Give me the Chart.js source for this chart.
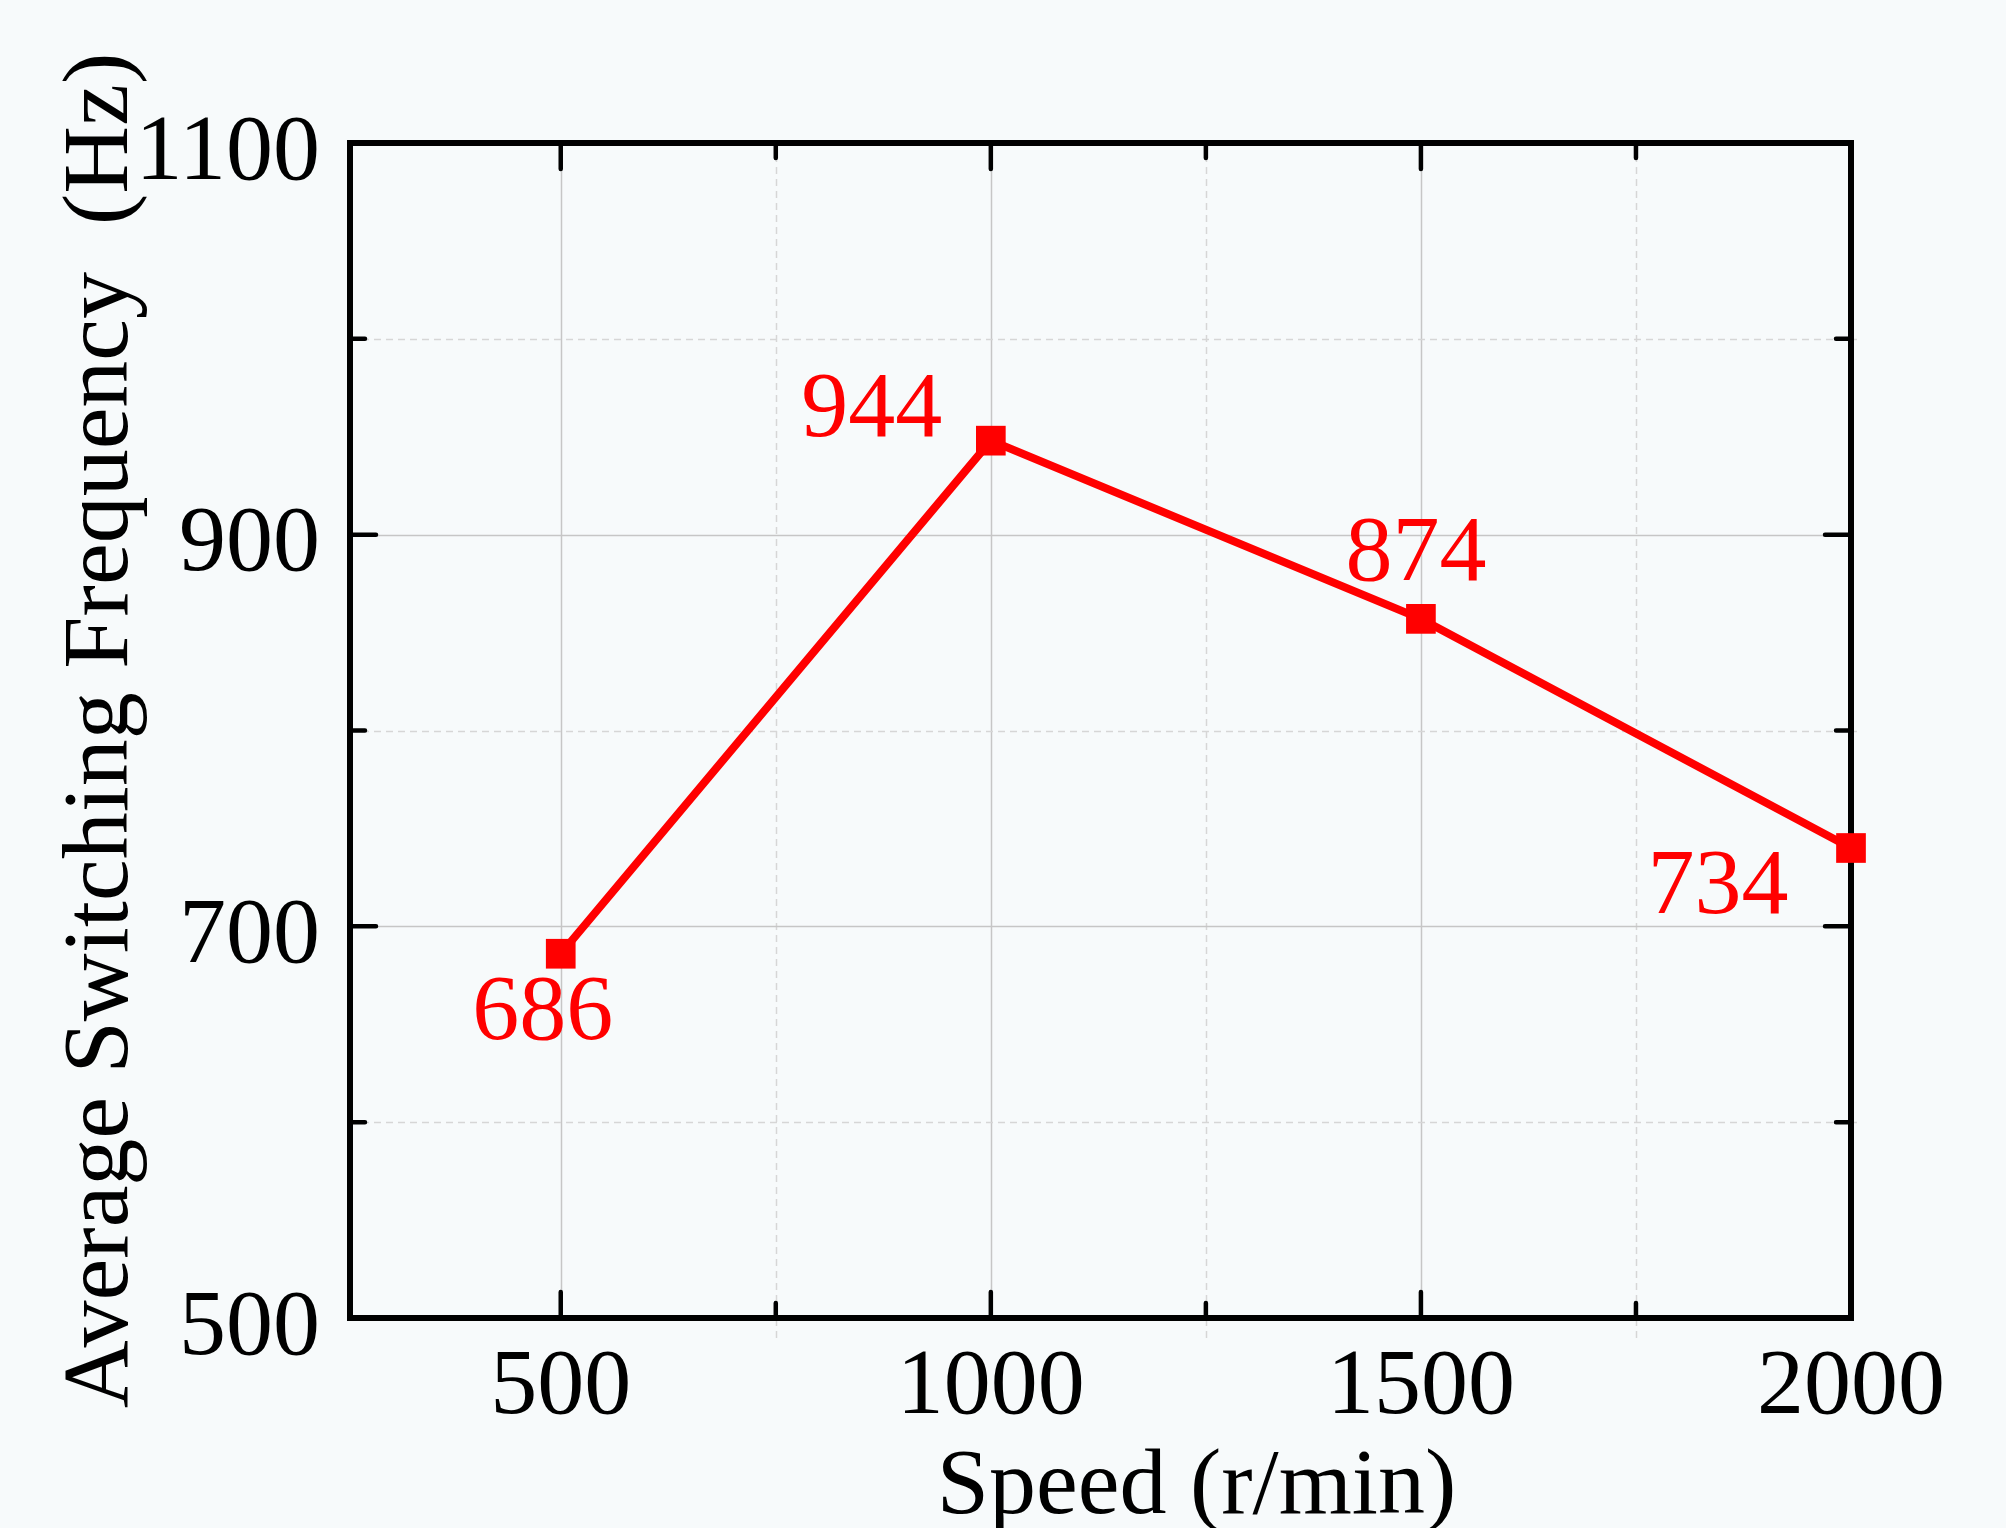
<!DOCTYPE html>
<html><head><meta charset="utf-8">
<script src="https://cdn.jsdelivr.net/npm/chart.js@4.4.1/dist/chart.umd.min.js"></script>
<style>html,body{margin:0;padding:0;background:#f7fafb;overflow:hidden}#wrap{width:2006px;height:1528px}</style>
</head><body><div id="wrap"><canvas id="c" width="2006" height="1528"></canvas></div>
<script>
const speeds = [500, 1000, 1500, 2000];
const avgFreq = [686, 948, 857, 740];
const pointLabels = ['686', '944', '874', '734'];
const xTicks = [500, 750, 1000, 1250, 1500, 1750, 2000];
const xTickLabels = ['500', '', '1000', '', '1500', '', '2000'];
const yTicks = [500, 600, 700, 800, 900, 1000, 1100];
const yTickLabels = ['500', '', '700', '', '900', '', '1100'];
const xTitle = 'Speed (r/min)';
const yTitle = 'Average Switching Frequency  (Hz)';

const FONT = '"Liberation Serif", "Times New Roman", serif';
const BG = '#f7fafb';
const RED = '#ff0000';
const labelOffsets = [[-18, 61], [-119, -29], [-5, -64], [-133, 40]];

const decor = {
  id: 'decor',
  beforeDraw(chart) {
    const ctx = chart.ctx;
    ctx.save();
    ctx.fillStyle = BG;
    ctx.fillRect(0, 0, chart.width, chart.height);
    ctx.restore();
  },
  beforeDatasetsDraw(chart) {
    const { ctx, chartArea: a, scales: { x, y } } = chart;
    ctx.save();
    xTicks.forEach((v, i) => {
      if (v === x.max || v === x.min) return;
      const px = Math.round(x.getPixelForValue(v)) + 0.5;
      ctx.beginPath();
      if (xTickLabels[i] !== '') {
        ctx.setLineDash([]); ctx.strokeStyle = '#c6c6c6'; ctx.lineWidth = 1.5;
        ctx.moveTo(px, a.top); ctx.lineTo(px, a.bottom);
      } else {
        ctx.setLineDash([7, 5]); ctx.strokeStyle = '#d6d6d6'; ctx.lineWidth = 1.5;
        ctx.moveTo(px, a.top); ctx.lineTo(px, a.bottom + 20);
      }
      ctx.stroke();
    });
    yTicks.forEach((v, i) => {
      if (v === y.max || v === y.min) return;
      const py = Math.round(y.getPixelForValue(v)) + 0.5;
      ctx.beginPath();
      if (yTickLabels[i] !== '') {
        ctx.setLineDash([]); ctx.strokeStyle = '#c6c6c6'; ctx.lineWidth = 1.5;
        ctx.moveTo(a.left, py); ctx.lineTo(a.right, py);
      } else {
        ctx.setLineDash([7, 5]); ctx.strokeStyle = '#d6d6d6'; ctx.lineWidth = 1.5;
        ctx.moveTo(a.left, py); ctx.lineTo(a.right + 10, py);
      }
      ctx.stroke();
    });
    ctx.setLineDash([]);
    ctx.strokeStyle = '#000';
    ctx.lineWidth = 6;
    ctx.lineJoin = 'miter';
    ctx.strokeRect(a.left, a.top, a.right - a.left, a.bottom - a.top);
    ctx.lineWidth = 4.5;
    ctx.lineCap = 'round';
    xTicks.forEach((v, i) => {
      if (v === x.max || v === x.min) return;
      const px = x.getPixelForValue(v);
      const L = xTickLabels[i] !== '' ? 26 : 15;
      ctx.beginPath();
      ctx.moveTo(px, a.bottom); ctx.lineTo(px, a.bottom - L);
      ctx.moveTo(px, a.top); ctx.lineTo(px, a.top + L);
      ctx.stroke();
    });
    yTicks.forEach((v, i) => {
      if (v === y.max || v === y.min) return;
      const py = y.getPixelForValue(v);
      const L = yTickLabels[i] !== '' ? 26 : 15;
      ctx.beginPath();
      ctx.moveTo(a.left, py); ctx.lineTo(a.left + L, py);
      ctx.moveTo(a.right, py); ctx.lineTo(a.right - L, py);
      ctx.stroke();
    });
    ctx.restore();
  },
  afterDatasetsDraw(chart) {
    const { ctx, chartArea: a } = chart;
    const meta = chart.getDatasetMeta(0);
    ctx.save();
    ctx.fillStyle = RED;
    ctx.font = '94px ' + FONT;
    ctx.textAlign = 'center';
    ctx.textBaseline = 'middle';
    meta.data.forEach((pt, i) => {
      ctx.fillText(pointLabels[i], pt.x + labelOffsets[i][0], pt.y + labelOffsets[i][1]);
    });
    ctx.fillStyle = '#000';
    ctx.textBaseline = 'alphabetic';
    ctx.fillText(xTitle, (a.left + a.right) / 2 + 96, 1513);
    ctx.translate(127, (a.top + a.bottom) / 2);
    ctx.rotate(-Math.PI / 2);
    ctx.fillText(yTitle, 0, 0);
    ctx.restore();
  }
};

new Chart(document.getElementById('c'), {
  type: 'line',
  data: {
    datasets: [{
      data: speeds.map((s, i) => ({ x: s, y: avgFreq[i] })),
      borderColor: RED,
      backgroundColor: RED,
      borderWidth: 8,
      pointStyle: 'rect',
      pointRadius: 21,
      pointBorderWidth: 0,
      pointBackgroundColor: RED,
      tension: 0,
      clip: false
    }]
  },
  options: {
    responsive: false,
    devicePixelRatio: 1,
    animation: false,
    layout: { padding: { left: 0, top: 143, right: 155, bottom: 0 } },
    plugins: { legend: { display: false }, tooltip: { enabled: false }, title: { display: false } },
    scales: {
      x: {
        type: 'linear', min: 255, max: 2000,
        afterBuildTicks(s) { s.ticks = xTicks.map(v => ({ value: v })); },
        afterFit(s) { s.height = 210; },
        grid: { display: false, drawTicks: false },
        border: { display: false },
        ticks: {
          autoSkip: false, maxRotation: 0, minRotation: 0, padding: 14, color: '#000',
          font: { family: FONT, size: 94 },
          callback: (v) => { const i = xTicks.indexOf(v); return i >= 0 ? xTickLabels[i] : ''; }
        }
      },
      y: {
        type: 'linear', min: 500, max: 1100,
        afterBuildTicks(s) { s.ticks = yTicks.map(v => ({ value: v })); },
        afterFit(s) { s.width = 350; },
        grid: { display: false, drawTicks: false },
        border: { display: false },
        ticks: {
          autoSkip: false, padding: 30, labelOffset: 11, color: '#000',
          font: { family: FONT, size: 94 },
          callback: (v) => { const i = yTicks.indexOf(v); return i >= 0 ? yTickLabels[i] : ''; }
        }
      }
    }
  },
  plugins: [decor]
});
</script>
</body></html>
